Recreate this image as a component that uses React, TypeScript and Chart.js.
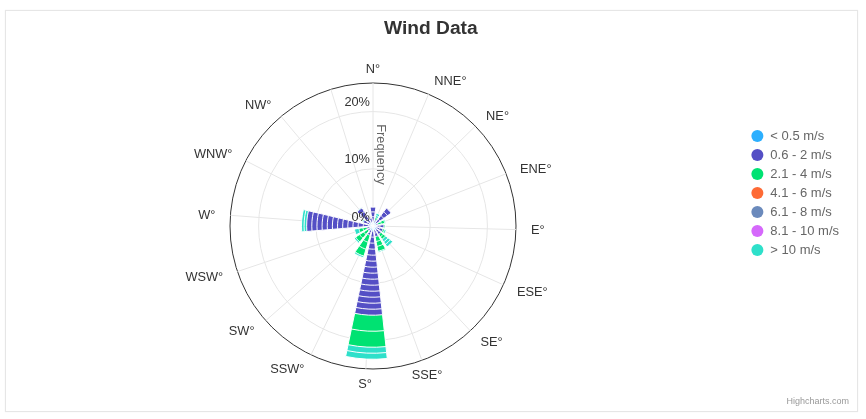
import React, { useEffect, useRef } from 'react';
import { Chart, registerables } from 'chart.js';

Chart.register(...registerables);
Chart.defaults.font.family = '"Liberation Sans", Arial, Helvetica, sans-serif';

const directions = ['N', 'NNE', 'NE', 'ENE', 'E', 'ESE', 'SE', 'SSE', 'S', 'SSW', 'SW', 'WSW', 'W', 'WNW', 'NW', 'NNW'];
// the NNW label is not shown in the original
const directionLabels = ['N°', 'NNE°', 'NE°', 'ENE°', 'E°', 'ESE°', 'SE°', 'SSE°', 'S°', 'SSW°', 'SW°', 'WSW°', 'W°', 'WNW°', 'NW°', ''];

const speedBands = ['< 0.5 m/s', '0.6 - 2 m/s', '2.1 - 4 m/s', '4.1 - 6 m/s', '6.1 - 8 m/s', '8.1 - 10 m/s', '> 10 m/s'];
const bandColors = ['#2caffe', '#544fc5', '#00e272', '#fe6a35', '#6b8abc', '#d568fb', '#2ee0ca'];

// frequency in % per direction (N .. NNW)
const below05 = [0.8, 0.6, 0.7, 0.5, 0.5, 0.6, 0.8, 0.7, 0.9, 0.8, 0.6, 0.6, 0.8, 0.5, 0.7, 0.4];
const from06to2 = [2.5, 0.5, 3.2, 0.4, 1.4, 1.2, 1.0, 1.2, 14.7, 0.9, 0.5, 0.5, 10.8, 1.3, 3.0, 1.0];
const from21to4 = [0, 0.4, 0, 1.2, 0.2, 0.3, 1.0, 2.6, 5.6, 3.8, 2.5, 1.4, 0, 0, 0, 0];
const from41to6 = [0, 0, 0, 0, 0, 0, 0, 0, 0, 0, 0, 0, 0, 0, 0, 0];
const from61to8 = [0, 0, 0, 0, 0, 0, 0, 0, 0, 0, 0, 0, 0, 0, 0, 0];
const from81to10 = [0, 0, 0, 0, 0, 0, 0, 0, 0, 0, 0, 0, 0, 0, 0, 0];
const above10 = [0, 0.8, 0, 0.2, 0, 0.3, 1.6, 0.2, 2.1, 0.3, 0.3, 0.8, 0.9, 0.2, 0.1, 0];

// how many stacked pieces (white separated) each band shows per direction
const below05Pieces = [1, 1, 1, 1, 1, 1, 1, 1, 1, 1, 1, 1, 1, 1, 1, 1];
const from06to2Pieces = [3, 1, 4, 1, 2, 2, 2, 2, 14, 2, 1, 1, 12, 2, 4, 1];
const from21to4Pieces = [1, 1, 1, 2, 1, 1, 2, 3, 2, 3, 3, 2, 1, 1, 1, 1];
const from41to6Pieces = [1, 1, 1, 1, 1, 1, 1, 1, 1, 1, 1, 1, 1, 1, 1, 1];
const from61to8Pieces = [1, 1, 1, 1, 1, 1, 1, 1, 1, 1, 1, 1, 1, 1, 1, 1];
const from81to10Pieces = [1, 1, 1, 1, 1, 1, 1, 1, 1, 1, 1, 1, 1, 1, 1, 1];
const above10Pieces = [1, 2, 1, 1, 1, 1, 3, 1, 2, 1, 1, 1, 2, 1, 1, 1];

const bandValues = [below05, from06to2, from21to4, from41to6, from61to8, from81to10, above10];
const bandPieces = [below05Pieces, from06to2Pieces, from21to4Pieces, from41to6Pieces, from61to8Pieces, from81to10Pieces, above10Pieces];

const frequencyTicks = [0, 10, 20];
const frequencyMax = 25;

// the original spaces its 16 directions a bit wider than 22.5deg,
// so the circle is cut in 63 slots and every 4th slot is a direction
const SLOTS = 63;
const SLOT_STEP = 4;
const BAR_DEG = 18;
const dirStep = (360 * SLOT_STEP) / SLOTS;

// per direction: cumulative outer value + colour of every stacked piece
const layers = directions.map((_, d) => {
  const out: { v: number; c: string }[] = [];
  let acc = 0;
  bandValues.forEach((vals, k) => {
    const n = bandPieces[k][d];
    if (vals[d] <= 0) return;
    for (let p = 0; p < n; p++) {
      acc += vals[d] / n;
      out.push({ v: acc, c: bandColors[k] });
    }
  });
  return out;
});
const layerCount = Math.max(...layers.map((l) => l.length));

// arcs: a leading spacer, then bar / gap / bar / gap ...
const arcDirs: number[] = [-1];
const arcAngles: number[] = [360 - BAR_DEG / 2];
directions.forEach((_, d) => {
  arcDirs.push(d);
  arcAngles.push(BAR_DEG);
  if (d < directions.length - 1) {
    arcDirs.push(-1);
    arcAngles.push(dirStep - BAR_DEG);
  }
});

const slotLabels = Array.from({ length: SLOTS }, (_, i) =>
  i % SLOT_STEP === 0 ? directionLabels[i / SLOT_STEP] ?? '' : ''
);

const pieceAt = (d: number, j: number) => (d < 0 ? undefined : layers[d][j]);

const axisTextPlugin = {
  id: 'axisText',
  afterDatasetsDraw(chart: any) {
    const r = chart.scales.r;
    const ctx = chart.ctx;
    ctx.save();
    ctx.font = '12.8px "Liberation Sans", Arial, sans-serif';
    ctx.textBaseline = 'middle';

    // direction labels, aligned the highcharts way
    ctx.fillStyle = '#333333';
    directionLabels.forEach((text, i) => {
      if (!text) return;
      const idx = i * SLOT_STEP;
      const deg = ((r.getIndexAngle(idx) * 180) / Math.PI + 360) % 360;
      const p = r.getPointPosition(idx, r.drawingArea + 15);
      ctx.textAlign = deg > 20 && deg < 160 ? 'left' : deg > 200 && deg < 340 ? 'right' : 'center';
      ctx.fillText(text, p.x, p.y + 1);
    });

    ctx.textAlign = 'right';
    frequencyTicks.forEach((v) => {
      const p = r.getPointPositionForValue(0, v);
      ctx.fillText(`${v}%`, p.x - 3, p.y - 9);
    });
    const mid = r.getPointPositionForValue(0, frequencyMax / 2);
    ctx.translate(mid.x + 8, mid.y);
    ctx.rotate(Math.PI / 2);
    ctx.textAlign = 'center';
    ctx.fillStyle = '#666666';
    ctx.fillText('Frequency', 0, 0);
    ctx.restore();
  },
};

const WindRose: React.FC = () => {
  const chartRef = useRef<HTMLCanvasElement | null>(null);

  useEffect(() => {
    if (!chartRef.current) return;
    const datasets = Array.from({ length: layerCount }, (_, j) => ({
      label: `layer ${j}`,
      data: arcDirs.map((d) => pieceAt(d, j)?.v ?? 0),
      backgroundColor: (c: any) => pieceAt(arcDirs[c.dataIndex], j)?.c ?? 'transparent',
      borderColor: '#ffffff',
      borderWidth: (c: any) => (pieceAt(arcDirs[c.dataIndex], j) ? 1 : 0),
      angle: (c: any) => arcAngles[c.dataIndex],
    }));

    const myChart = new Chart(chartRef.current, {
      type: 'polarArea',
      data: { labels: slotLabels, datasets: datasets as any },
      options: {
        responsive: false,
        animation: false,
        layout: { padding: { right: 8 } },
        scales: {
          r: {
            min: 0,
            max: frequencyMax,
            startAngle: 0,
            ticks: { display: false, stepSize: 10 },
            grid: {
              circular: true,
              color: (c: any) => (c.tick && c.tick.value >= frequencyMax ? '#333333' : '#e6e6e6'),
              lineWidth: 1,
            },
            angleLines: {
              display: true,
              color: '#e6e6e6',
              lineWidth: (c: any) => (c.index % SLOT_STEP === 0 ? 1 : 0),
            },
            pointLabels: { display: false },
          },
        },
        plugins: {
          title: {
            display: true,
            text: '  Wind Data',
            color: '#333333',
            font: { size: 19.2, weight: 'bold' },
            padding: { top: 6.5, bottom: 42.5 },
          },
          subtitle: {
            display: true,
            text: 'Highcharts.com',
            position: 'bottom',
            align: 'end',
            color: '#999999',
            font: { size: 9 },
            padding: { top: 26.6, bottom: 3.6 },
          },
          legend: {
            position: 'right',
            align: 'start',
            fullSize: false,
            title: { display: true, text: '', padding: { top: 0, bottom: 26.1 }, font: { size: 12 } },
            labels: {
              usePointStyle: true,
              pointStyle: 'circle',
              boxWidth: 13,
              boxHeight: 8.5,
              padding: 6,
              color: '#333333',
              font: { size: 13 },
              generateLabels: () =>
                speedBands.map((band, i) => ({
                  text: band,
                  fillStyle: bandColors[i],
                  strokeStyle: bandColors[i],
                  lineWidth: 0,
                  pointStyle: 'circle',
                  hidden: false,
                  index: i,
                })),
            },
          },
          tooltip: { enabled: false },
        },
      } as any,
      plugins: [axisTextPlugin],
    });

    return () => {
      myChart.destroy();
    };
  }, []);

  return (
    <div
      style={{
        position: 'absolute',
        left: 5,
        top: 10,
        width: 853,
        height: 402,
        boxSizing: 'border-box',
        border: '1px solid #e6e6e6',
        boxShadow: '0 0 1px #eeeeee',
      }}
    >
      <canvas ref={chartRef} width={855} height={400} style={{ position: 'absolute', left: -4, top: 0 }} />
    </div>
  );
};

export default function App() {
  return <WindRose />;
}
